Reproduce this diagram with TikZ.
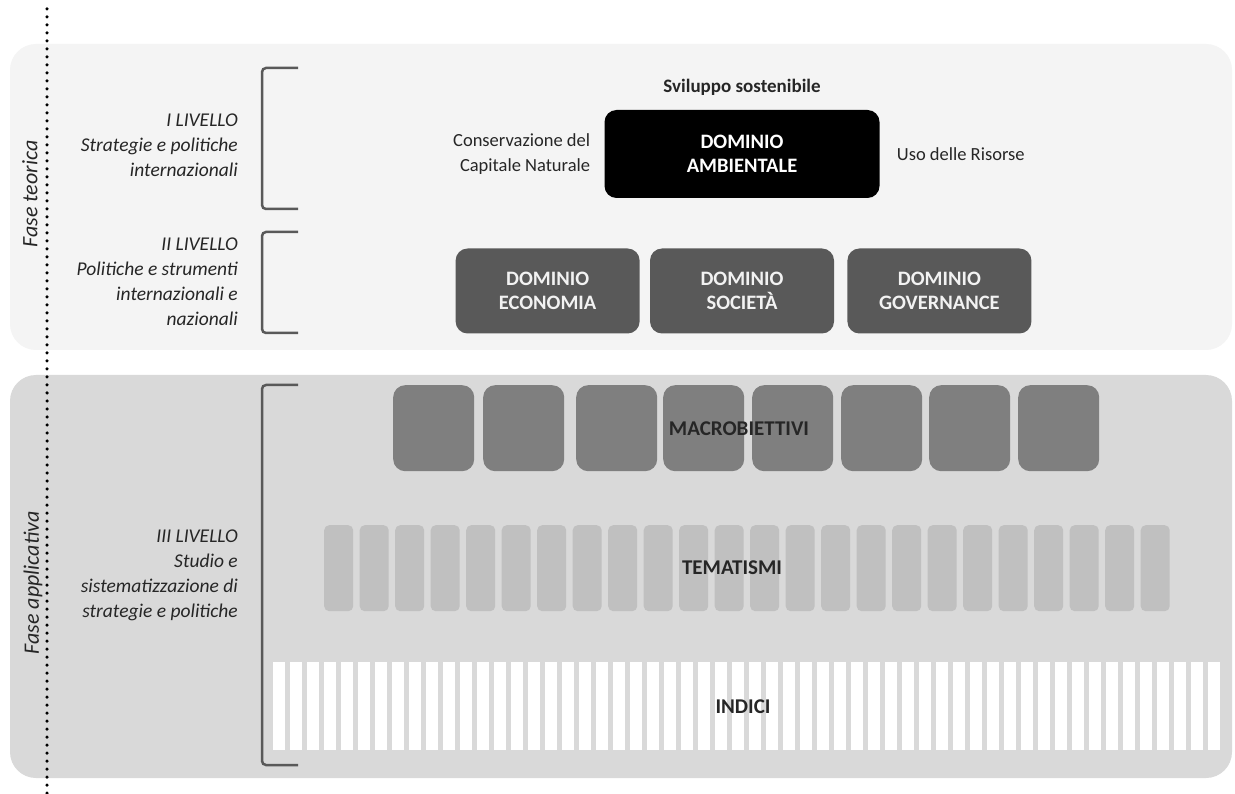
\documentclass[tikz,border=0pt]{standalone}
\usepackage{fontspec}
\setmainfont{Carlito}
\usetikzlibrary{positioning}

\definecolor{panellight}{HTML}{F4F4F4}
\definecolor{paneldark}{HTML}{D9D9D9}
\definecolor{domgray}{HTML}{595959}
\definecolor{macrogray}{HTML}{7F7F7F}
\definecolor{temgray}{HTML}{C0C0C0}
\definecolor{textgray}{HTML}{262626}

\begin{document}
\begin{tikzpicture}[x=1pt, y=-1pt,
  panel/.style={rounded corners=26pt},
  bracket/.style={draw=domgray, line width=2.5pt, rounded corners=4pt},
  livtext/.style={align=right, anchor=east, text=textgray, inner sep=0pt,
    font=\fontsize{19.5}{25}\selectfont\itshape},
  fasetext/.style={rotate=90, text=textgray, inner sep=0pt,
    font=\fontsize{22}{24}\selectfont\itshape},
  plaintext/.style={text=textgray, inner sep=0pt, font=\fontsize{18.5}{25}\selectfont},
  dombox/.style={rounded corners=12pt, fill=domgray, text=white!95!black,
    align=center, inner sep=0pt, minimum width=184pt, minimum height=85pt,
    font=\fontsize{20.5}{24}\selectfont\bfseries},
  macrobox/.style={rounded corners=12pt, fill=macrogray, anchor=north west,
    inner sep=0pt, minimum width=81pt, minimum height=86pt},
  tembox/.style={rounded corners=5pt, fill=temgray, anchor=north west,
    inner sep=0pt, minimum width=29pt, minimum height=86pt},
  indbar/.style={fill=white, anchor=north west,
    inner sep=0pt, minimum width=12pt, minimum height=88pt},
  rowtext/.style={text=black!85, inner sep=0pt, font=\fontsize{21}{24}\selectfont\bfseries}]

  \useasboundingbox[fill=white] (0,0) rectangle (1235,794);

  % the two phases
  \fill[panel, panellight] (10,44) rectangle (1232,350);
  \fill[panel, paneldark] (10,375) rectangle (1232,778);

  % brackets of the three levels
  \draw[bracket] (298,68) -- (262,68) -- (262,209) -- (298,209);
  \draw[bracket] (298,232) -- (262,232) -- (262,333) -- (298,333);
  \draw[bracket] (298,385) -- (262,385) -- (262,765) -- (298,765);

  \node[livtext] (liv1) at (238,145) {I LIVELLO\\Strategie e politiche\\internazionali};
  \node[livtext] (liv2) at (238,282) {II LIVELLO\\Politiche e strumenti\\internazionali e\\nazionali};
  \node[livtext] (liv3) at (238,575) {III LIVELLO\\Studio e\\sistematizzazione di\\strategie e politiche};

  \node[fasetext] (teorica) at (30,194) {Fase teorica};
  \node[fasetext] (applicativa) at (33,583) {Fase applicativa};

  % level I and II
  \node[dombox, fill=black, text=white, minimum width=275pt, minimum height=88pt]
    (amb) at (742,154) {DOMINIO\\AMBIENTALE};
  \node[plaintext, font=\fontsize{19}{25}\selectfont\bfseries, above=14pt of amb] (svil) {Sviluppo sostenibile};
  \node[plaintext, align=right, left=14pt of amb] (cons) {Conservazione del\\Capitale Naturale};
  \node[plaintext, right=17pt of amb] (uso) {Uso delle Risorse};

  \node[dombox] (soc) at (742,291) {DOMINIO\\SOCIETÀ};
  \node[dombox, left=10pt of soc] (eco) {DOMINIO\\ECONOMIA};
  \node[dombox, right=13pt of soc] (gov) {DOMINIO\\GOVERNANCE};

  % level III
  \foreach \x [count=\i] in {393,483,576,663,752,841,929,1018}
    \node[macrobox] (m\i) at (\x,385) {};
  \node[rowtext] (macro) at (739,429) {MACROBIETTIVI};

  \foreach \i in {1,...,24}
    \node[tembox] (t\i) at ({324+35.5*(\i-1)},525) {};
  \node[rowtext] (tema) at (732,568) {TEMATISMI};

  \foreach \i in {1,...,56}
    \node[indbar] (b\i) at ({273+17*(\i-1)},662) {};
  \node[rowtext] (ind) at (743,707) {INDICI};

  % dotted separator
  \draw[line width=3.5pt, line cap=round, dash pattern=on 0pt off 8pt] (47,9) -- (47,794);

\end{tikzpicture}
\end{document}
